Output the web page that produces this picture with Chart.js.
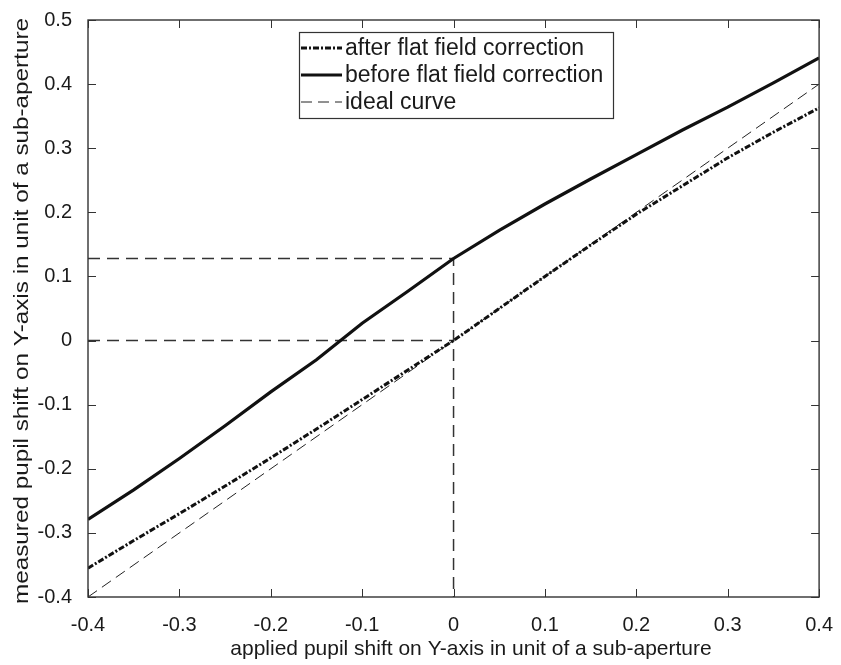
<!DOCTYPE html>
<html>
<head>
<meta charset="utf-8">
<script src="https://cdn.jsdelivr.net/npm/chart.js@4"></script>
<style>
    body { margin: 0; background: #fff; }
    canvas { display: block; }
</style>
</head>
<body>
<canvas id="shift-chart" width="841" height="665"></canvas>
<script>
/* ============================== DATA ============================== */
const shiftX      = [-0.4, -0.35, -0.3, -0.25, -0.2, -0.15, -0.1, -0.05, 0, 0.05, 0.1, 0.15, 0.2, 0.25, 0.3, 0.35, 0.4];
const beforeFlat  = [-0.279, -0.233, -0.184, -0.133, -0.08, -0.03, 0.027, 0.077, 0.128, 0.172, 0.213, 0.252, 0.29, 0.328, 0.364, 0.402, 0.441];
const afterFlat   = [-0.355, -0.312, -0.27, -0.227, -0.183, -0.138, -0.092, -0.046, 0, 0.05, 0.1, 0.149, 0.197, 0.241, 0.285, 0.325, 0.363];
const idealX      = [-0.4, 0.4];
const idealY      = [-0.4, 0.4];
const guideBeforeX = [-0.4, 0, 0];
const guideBeforeY = [0.128, 0.128, -0.4];
const guideZeroX   = [-0.4, 0];
const guideZeroY   = [0, 0];
const seriesNames = ['after flat field correction', 'before flat field correction', 'ideal curve'];
const xTitle = 'applied pupil shift on Y-axis in unit of a sub-aperture';
const yTitle = 'measured pupil shift on Y-axis in unit of a sub-aperture';

const FONT = '"Liberation Sans", Arial, sans-serif';
const INK = '#1a1a1a';

function toPoints(xs, ys) {
    return xs.map((x, i) => ({ x: x, y: ys[i] }));
}

/* ============================== PLUGINS ============================== */
// box round the plot and ticks pointing inwards, like the original figure
const framePlugin = {
    id: 'framePlugin',
    afterDatasetsDraw(chart) {
        const { ctx, chartArea: a, scales } = chart;
        const len = 8;
        ctx.save();
        ctx.strokeStyle = '#333';
        ctx.lineWidth = 1;
        scales.x.ticks.forEach(t => {
            const px = Math.round(scales.x.getPixelForValue(t.value)) + 0.5;
            ctx.beginPath();
            ctx.moveTo(px, a.bottom); ctx.lineTo(px, a.bottom - len);
            ctx.moveTo(px, a.top); ctx.lineTo(px, a.top + len);
            ctx.stroke();
        });
        scales.y.ticks.forEach(t => {
            const py = Math.round(scales.y.getPixelForValue(t.value)) + 0.5;
            ctx.beginPath();
            ctx.moveTo(a.left, py); ctx.lineTo(a.left + len, py);
            ctx.moveTo(a.right, py); ctx.lineTo(a.right - len, py);
            ctx.stroke();
        });
        ctx.lineWidth = 1.4;
        ctx.strokeRect(a.left, a.top, a.right - a.left, a.bottom - a.top);
        ctx.restore();
    }
};

// axis titles: the source figure is a little stretched, so the y title is longer than the x one
const titlesPlugin = {
    id: 'titlesPlugin',
    afterDraw(chart) {
        const { ctx } = chart;
        ctx.save();
        ctx.fillStyle = INK;
        ctx.font = '21px ' + FONT;
        ctx.textAlign = 'center';
        ctx.textBaseline = 'middle';
        ctx.fillText(xTitle, 471, 649);

        ctx.translate(22, 311);
        ctx.rotate(-Math.PI / 2);
        const w = ctx.measureText(yTitle).width;
        ctx.scale(586 / w, 1);
        ctx.fillText(yTitle, 0, 0);
        ctx.restore();
    }
};

const legendBoxPlugin = {
    id: 'legendBoxPlugin',
    afterDraw(chart) {
        const { ctx } = chart;
        const box = { x: 299, y: 32, w: 314, h: 86 };
        const rows = [48, 75, 102];
        const styles = chart.data.datasets.slice(0, 3);
        ctx.save();
        ctx.fillStyle = '#fff';
        ctx.fillRect(box.x, box.y, box.w, box.h);
        ctx.strokeStyle = '#333';
        ctx.lineWidth = 1.2;
        ctx.strokeRect(box.x + 0.5, box.y + 0.5, box.w, box.h);
        styles.forEach((ds, i) => {
            ctx.strokeStyle = ds.borderColor;
            ctx.lineWidth = ds.borderWidth;
            ctx.setLineDash(ds.borderDash || []);
            ctx.beginPath();
            ctx.moveTo(box.x + 2, rows[i]);
            ctx.lineTo(box.x + 43, rows[i]);
            ctx.stroke();
            ctx.setLineDash([]);
            ctx.fillStyle = INK;
            ctx.font = '23px ' + FONT;
            ctx.textBaseline = 'middle';
            ctx.fillText(seriesNames[i], box.x + 46, rows[i] + 1);
        });
        ctx.restore();
    }
};

/* ============================== CHART ============================== */
function shiftChart() {
    const ctx = document.getElementById('shift-chart').getContext('2d');

    new Chart(ctx, {
        type: 'scatter',
        data: {
            datasets: [
                {
                    label: seriesNames[0],
                    data: toPoints(shiftX, afterFlat),
                    borderColor: '#111',
                    borderWidth: 3,
                    borderDash: [6, 2, 2, 2]
                },
                {
                    label: seriesNames[1],
                    data: toPoints(shiftX, beforeFlat),
                    borderColor: '#111',
                    borderWidth: 3.2
                },
                {
                    label: seriesNames[2],
                    data: toPoints(idealX, idealY),
                    borderColor: '#222',
                    borderWidth: 1,
                    borderDash: [11, 6]
                },
                {
                    label: 'guide',
                    data: toPoints(guideBeforeX, guideBeforeY),
                    borderColor: '#333',
                    borderWidth: 1.5,
                    borderDash: [12, 7]
                },
                {
                    label: 'guide zero',
                    data: toPoints(guideZeroX, guideZeroY),
                    borderColor: '#333',
                    borderWidth: 1.5,
                    borderDash: [12, 7]
                }
            ].map(ds => Object.assign(ds, { showLine: true, pointRadius: 0, tension: 0, fill: false }))
        },
        options: {
            responsive: false,
            animation: false,
            layout: { padding: { top: 14, right: 16, left: 0, bottom: 0 } },
            plugins: {
                legend: { display: false },
                tooltip: { enabled: false }
            },
            scales: {
                x: {
                    type: 'linear',
                    min: -0.4,
                    max: 0.4,
                    grid: { display: false },
                    border: { display: false },
                    ticks: { stepSize: 0.1, color: INK, padding: 8, font: { family: FONT, size: 20 } },
                    afterFit(scale) { scale.height = 68; }
                },
                y: {
                    min: -0.4,
                    max: 0.5,
                    grid: { display: false },
                    border: { display: false },
                    ticks: { stepSize: 0.1, color: INK, padding: 8, font: { family: FONT, size: 20 } },
                    afterFit(scale) { scale.width = 88; }
                }
            }
        },
        plugins: [framePlugin, titlesPlugin, legendBoxPlugin]
    });
}

document.addEventListener('DOMContentLoaded', function() {
    shiftChart();
});
</script>
</body>
</html>
